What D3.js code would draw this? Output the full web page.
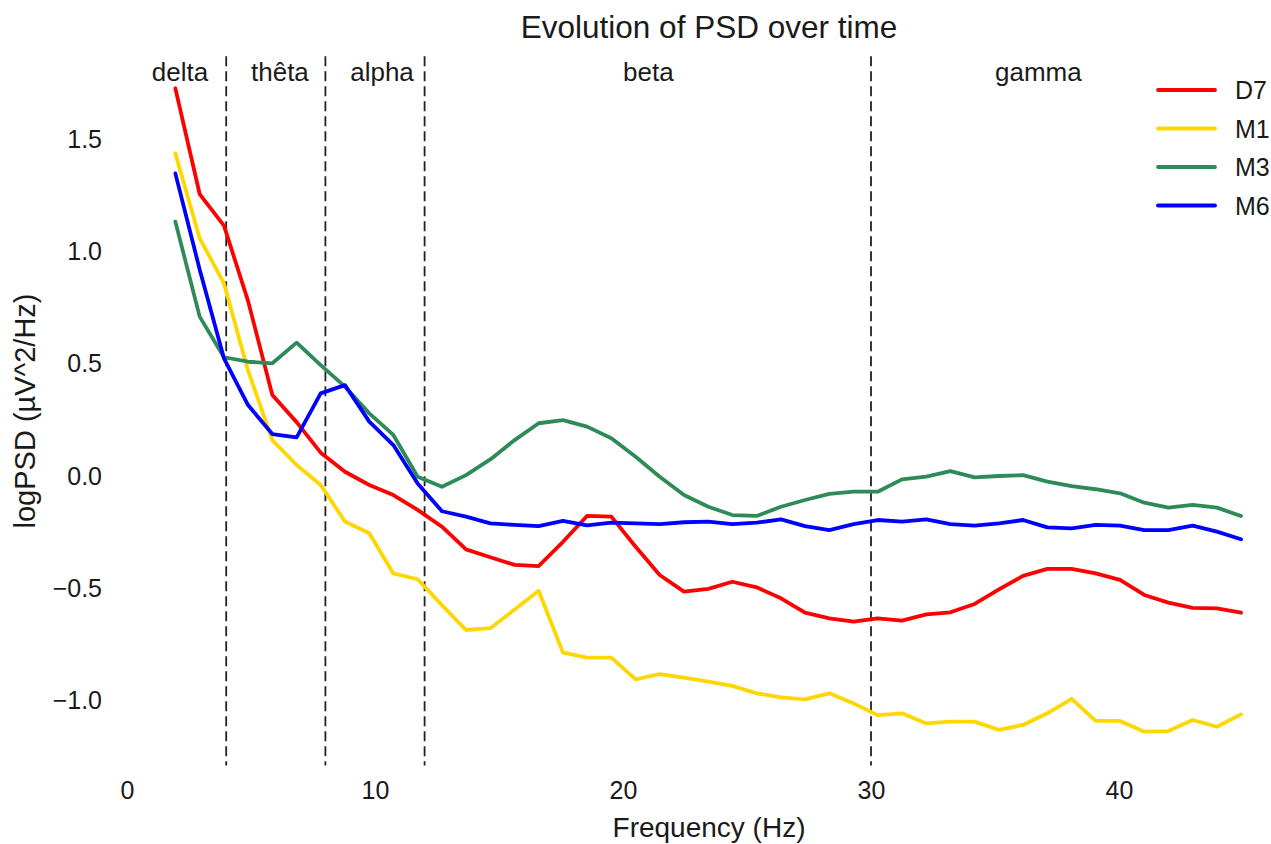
<!DOCTYPE html>
<html><head><meta charset="utf-8">
<script src="https://cdn.jsdelivr.net/npm/d3@7"></script>
<style>body{margin:0;background:#fff;} svg{display:block;} text{font-family:"Liberation Sans",Arial,sans-serif;fill:#1a1a1a;}</style>
</head><body>
<svg id="chart" width="1271" height="844"></svg>
<script>
const freqs = [1.95,2.93,3.91,4.88,5.86,6.84,7.81,8.79,9.77,10.74,11.72,12.70,13.67,14.65,15.63,16.60,17.58,18.55,19.53,20.51,21.48,22.46,23.44,24.41,25.39,26.37,27.34,28.32,29.30,30.27,31.25,32.23,33.20,34.18,35.16,36.13,37.11,38.09,39.06,40.04,41.02,41.99,42.97,43.95,44.92];
const D7 = [1.727,1.256,1.115,0.78,0.361,0.240,0.104,0.019,-0.040,-0.085,-0.151,-0.226,-0.327,-0.362,-0.396,-0.401,-0.293,-0.178,-0.181,-0.315,-0.441,-0.515,-0.503,-0.471,-0.496,-0.545,-0.609,-0.634,-0.649,-0.634,-0.644,-0.616,-0.607,-0.570,-0.505,-0.445,-0.414,-0.414,-0.434,-0.463,-0.530,-0.564,-0.587,-0.590,-0.609];
const M1 = [1.437,1.059,0.858,0.47,0.160,0.049,-0.040,-0.203,-0.255,-0.434,-0.460,-0.575,-0.686,-0.678,-0.595,-0.511,-0.787,-0.809,-0.809,-0.906,-0.882,-0.898,-0.916,-0.935,-0.968,-0.986,-0.995,-0.968,-1.013,-1.065,-1.057,-1.102,-1.094,-1.094,-1.131,-1.109,-1.057,-0.993,-1.091,-1.091,-1.139,-1.136,-1.087,-1.117,-1.062];
const M3 = [1.133,0.710,0.529,0.509,0.502,0.594,0.494,0.398,0.279,0.183,-0.003,-0.048,0.004,0.074,0.160,0.235,0.249,0.220,0.168,0.086,-0.003,-0.085,-0.137,-0.174,-0.178,-0.137,-0.107,-0.080,-0.070,-0.070,-0.015,-0.003,0.022,-0.006,0.000,0.004,-0.025,-0.045,-0.059,-0.077,-0.119,-0.141,-0.129,-0.141,-0.178];
const M6 = [1.348,0.92,0.524,0.316,0.187,0.172,0.368,0.405,0.242,0.138,-0.033,-0.157,-0.181,-0.211,-0.218,-0.223,-0.200,-0.220,-0.208,-0.211,-0.214,-0.206,-0.203,-0.214,-0.208,-0.193,-0.223,-0.241,-0.214,-0.196,-0.203,-0.193,-0.214,-0.221,-0.211,-0.196,-0.229,-0.233,-0.218,-0.221,-0.241,-0.241,-0.221,-0.248,-0.282];
const seriesNames = ["D7","M1","M3","M6"];
const seriesColors = ["#ff0000","#ffd700","#2e8b57","#0000ff"];
const bandEdges = [4,8,12,30];
const bandNames = ["delta","thêta","alpha","beta","gamma"];
const bandLabelX = [1,5,9,20,35];
const xTicks = [0,10,20,30,40];
const yTicks = [-1.0,-0.5,0.0,0.5,1.0,1.5];

const svg = d3.select("#chart");
const x = d3.scaleLinear().domain([0,45]).range([127,1243]);
const y = d3.scaleLinear().domain([-1.29,1.87]).range([765.6,56.2]);

// axes (no spines)
const xAxis = svg.append("g").attr("transform","translate(0,765)")
  .call(d3.axisBottom(x).tickValues(xTicks).tickSize(0).tickPadding(16).tickFormat(d3.format("d")));
xAxis.select(".domain").remove();
xAxis.selectAll("text").style("font-size","25px").attr("fill","#1a1a1a");

const yAxis = svg.append("g").attr("transform","translate(127,0)")
  .call(d3.axisLeft(y).tickValues(yTicks).tickSize(0).tickPadding(25).tickFormat(d=>d3.format(".1f")(d).replace("-","\u2212")));
yAxis.select(".domain").remove();
yAxis.selectAll("text").style("font-size","25px").attr("fill","#1a1a1a");

// band separators
svg.append("g").selectAll("line").data(bandEdges).join("line")
  .attr("x1",d=>x(d)).attr("x2",d=>x(d)).attr("y1",y(1.87)).attr("y2",y(-1.29))
  .attr("stroke","#222").attr("stroke-width",1.8).attr("stroke-dasharray","10,5");

svg.append("g").selectAll("text").data(bandNames).join("text")
  .attr("x",(d,i)=>x(bandLabelX[i])).attr("y",81)
  .style("font-size","26px").text(d=>d);

// lines
const data = [D7,M1,M3,M6];
const line = d3.line().x((d,i)=>x(freqs[i])).y(d=>y(d));
svg.append("g").selectAll("path").data(data).join("path")
  .attr("d",line).attr("fill","none")
  .attr("stroke",(d,i)=>seriesColors[i]).attr("stroke-width",3.8)
  .attr("stroke-linejoin","round").attr("stroke-linecap","round");

// title & labels
svg.append("text").attr("x",709).attr("y",38).attr("text-anchor","middle").style("font-size","31.5px").text("Evolution of PSD over time");
svg.append("text").attr("x",709).attr("y",837).attr("text-anchor","middle").style("font-size","28px").text("Frequency (Hz)");
svg.append("text").attr("transform","translate(35,411) rotate(-90)").attr("text-anchor","middle").style("font-size","29px").text("logPSD (µV^2/Hz)");

// legend
const lg = svg.append("g").selectAll("g").data(seriesNames).join("g")
  .attr("transform",(d,i)=>`translate(1158,${90+i*38.5})`);
lg.append("line").attr("x1",0).attr("x2",57).attr("stroke",(d,i)=>seriesColors[i]).attr("stroke-width",3.8).attr("stroke-linecap","round");
lg.append("text").attr("x",77).attr("y",9).style("font-size","25px").text(d=>d);
</script>
</body></html>
